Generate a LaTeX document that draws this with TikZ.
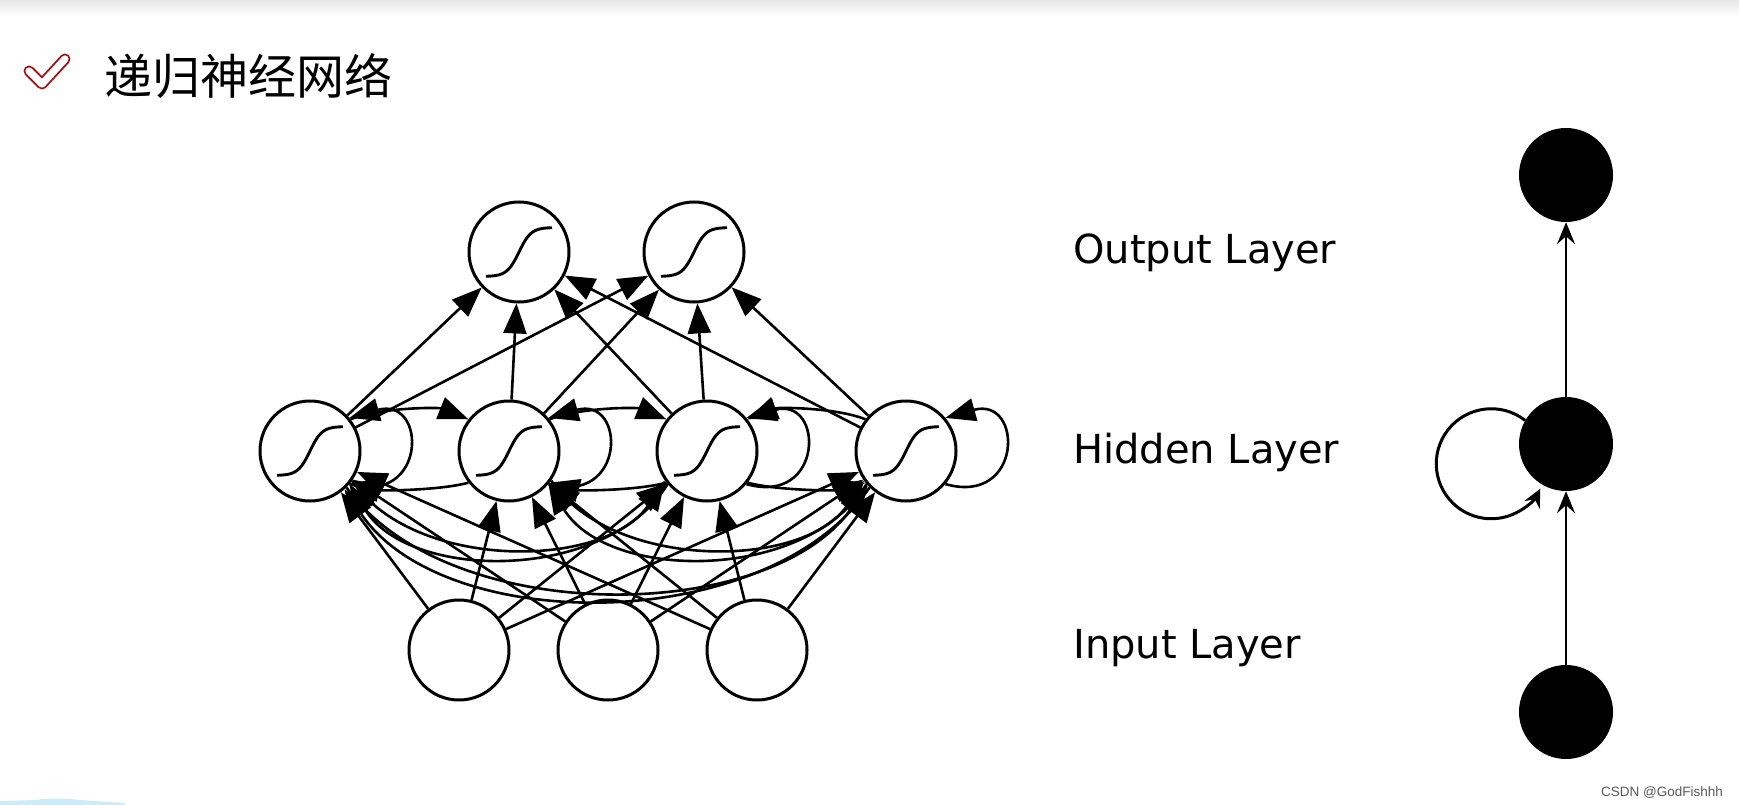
\documentclass[tikz,border=0pt]{standalone}
\usepackage{fontspec}
\newfontfamily\cjkfont{Noto Sans CJK SC}
\newfontfamily\dvfont{DejaVu Sans}
\newfontfamily\lsfont{Liberation Sans}
\usetikzlibrary{arrows.meta}
\definecolor{checkred}{RGB}{160,18,22}
\definecolor{smudge}{RGB}{205,236,250}
\begin{document}
\begin{tikzpicture}[x=1pt,y=-1pt,
 neuron/.style={circle, draw, line width=3pt, minimum size=100pt, inner sep=0pt, fill=white},
 dot/.style={circle, fill=black, minimum size=94pt, inner sep=0pt},
 arr/.style={line width=2.6pt, -{Triangle[length=30pt,width=23pt]}},
 thinarr/.style={line width=1.6pt, -{Stealth[length=22pt,width=18pt,inset=8pt]}},
 looparr/.style={line width=3pt, -{Stealth[length=18pt,width=17pt,inset=6pt]}},
 sig/.style={line width=2.9pt},
 layerlabel/.style={anchor=base west, inner sep=0pt, font=\dvfont\fontsize{40}{48}\selectfont},
]
\useasboundingbox (0,0) rectangle (1739,805);
\fill[white] (0,0) rectangle (1739,805);
\fill[top color=black!9, bottom color=white] (0,0) rectangle (1739,17);
\fill[smudge] (0,805) -- (0,801) -- (35,800) .. controls (45,798) and (65,798) .. (80,800) -- (125,803) -- (125,805) -- cycle;

% title
\draw[line width=11pt, checkred, line cap=round, line join=round] (29,71) -- (42,84) -- (65,59);
\draw[line width=7.2pt, white, line cap=round, line join=round] (29,71) -- (42,84) -- (65,59);
\node[anchor=base west, inner sep=0pt, font=\cjkfont\fontsize{48}{56}\selectfont] (title) at (104,95) {递归神经网络};

% network nodes
\node[neuron] (O1) at (519,252) {};
\node[neuron] (O2) at (694,252) {};
\node[neuron] (H1) at (310,451) {};
\node[neuron] (H2) at (509,451) {};
\node[neuron] (H3) at (707,451) {};
\node[neuron] (H4) at (906,451) {};
\node[neuron] (I1) at (459,650) {};
\node[neuron] (I2) at (608,650) {};
\node[neuron] (I3) at (757,650) {};

\foreach \n in {O1,O2,H1,H2,H3,H4}
  \draw[sig, shift={(\n.center)}] plot[domain=-33:33, samples=41, smooth] (\x, {-24.5*tanh(\x/12)});

% hidden -> output
\foreach \h in {H1,H2,H3,H4}
  \foreach \o in {O1,O2}
    \draw[arr] (\h) -- (\o);
% input -> hidden
\foreach \i in {I1,I2,I3}
  \foreach \h in {H1,H2,H3,H4}
    \draw[arr] (\i) -- (\h);
% self loops
\foreach \h in {H1,H2,H3,H4}
  \draw[arr] (\h.-40) .. controls +(78,22) and +(78,-22) .. (\h.40);
% neighbour arcs above
\draw[arr] (H1.38) .. controls +(30,-12) and +(-30,-12) .. (H2.142);
\draw[arr] (H2.38) .. controls +(30,-12) and +(-30,-12) .. (H3.142);
\draw[arr] (H4.142) .. controls +(-30,-12) and +(30,-12) .. (H3.38);
% neighbour arcs below
\draw[arr] (H2.218) .. controls +(-30,8) and +(30,8) .. (H1.322);
\draw[arr] (H3.218) .. controls +(-30,8) and +(30,8) .. (H2.322);
\draw[arr] (H3.322) .. controls +(30,8) and +(-30,8) .. (H4.218);
% long arcs below
\draw[arr] (H1.-35) .. controls +(60,90) and +(-60,90) .. (H3.215);
\draw[arr] (H3.220) .. controls +(-60,98) and +(60,98) .. (H1.-40);
\draw[arr] (H2.-35) .. controls +(60,90) and +(-60,90) .. (H4.215);
\draw[arr] (H4.220) .. controls +(-60,98) and +(60,98) .. (H2.-40);
\draw[arr] (H1.-45) .. controls +(100,140) and +(-100,140) .. (H4.222);
\draw[arr] (H4.225) .. controls +(-100,148) and +(100,148) .. (H1.-48);

% labels
\node[layerlabel] (lo) at (1073,263) {Output Layer};
\node[layerlabel] (lh) at (1073,463) {Hidden Layer};
\node[layerlabel] (li) at (1073,658) {Input Layer};

% compact view
\node[dot] (R3) at (1566,175) {};
\node[dot] (R2) at (1566,444) {};
\node[dot] (R1) at (1566,712) {};
\draw[thinarr] (R1) -- (R2);
\draw[thinarr] (R2) -- (R3);
\draw[looparr] (R2.150) arc[start angle=-52, end angle=-333, radius=55];

\node[anchor=base west, inner sep=0pt, text=black!65, font=\lsfont\fontsize{13.5}{16}\selectfont] (wm) at (1601,796) {CSDN @GodFishhh};
\end{tikzpicture}
\end{document}
